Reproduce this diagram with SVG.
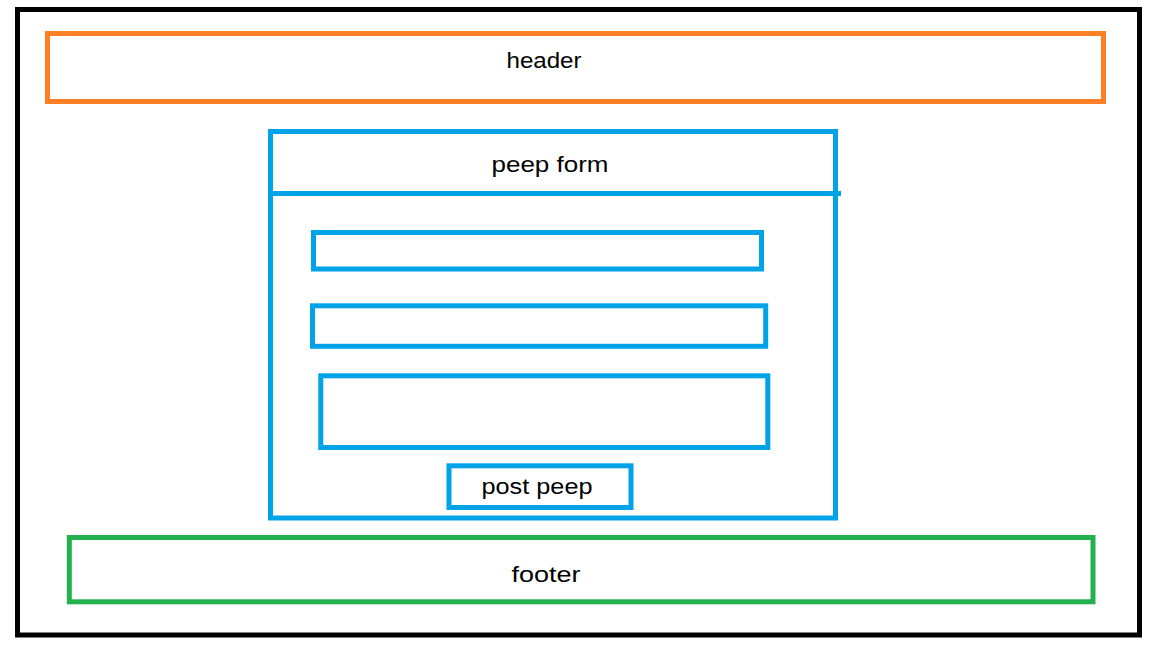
<svg xmlns="http://www.w3.org/2000/svg" width="1152" height="648" viewBox="0 0 1152 648">
  <style>
    .box { fill: none; stroke-width: 5; }
    .frame { stroke: #000000; }
    .orange { stroke: #FF7F27; }
    .blue { stroke: #00A2E8; }
    .green { stroke: #22B14C; }
    .lbl { font-family: "Liberation Sans", Arial, sans-serif; font-size: 22px; fill: #000000; text-anchor: middle; }
  </style>
  <rect x="0" y="0" width="1152" height="648" fill="#ffffff"/>
  <g id="frame">
    <rect class="box frame" x="17.5" y="9.5" width="1122" height="625.5"/>
  </g>
  <g id="header">
    <rect class="box orange" x="47.5" y="33.5" width="1056" height="68"/>
    <text class="lbl" x="544" y="68" textLength="75" lengthAdjust="spacingAndGlyphs">header</text>
  </g>
  <g id="peep-form">
    <rect class="box blue" x="270.5" y="131.5" width="565" height="386.5"/>
    <line class="box blue" x1="270.5" y1="193.5" x2="841" y2="193.5"/>
    <text class="lbl" x="550" y="172" textLength="117" lengthAdjust="spacingAndGlyphs">peep form</text>
  </g>
  <g id="input-1">
    <rect class="box blue" x="313.5" y="232.5" width="448" height="36.5"/>
  </g>
  <g id="input-2">
    <rect class="box blue" x="312.5" y="305.8" width="453.2" height="40.5"/>
  </g>
  <g id="input-3">
    <rect class="box blue" x="320.8" y="375.8" width="447" height="71.7"/>
  </g>
  <g id="post-peep">
    <rect class="box blue" x="449" y="465.8" width="182" height="41.7"/>
    <text class="lbl" x="537" y="494" textLength="111" lengthAdjust="spacingAndGlyphs">post peep</text>
  </g>
  <g id="footer">
    <rect class="box green" x="69.3" y="537.5" width="1023.7" height="64.3"/>
    <text class="lbl" x="546" y="582" textLength="69" lengthAdjust="spacingAndGlyphs">footer</text>
  </g>
  <g id="connectors"></g>
</svg>
